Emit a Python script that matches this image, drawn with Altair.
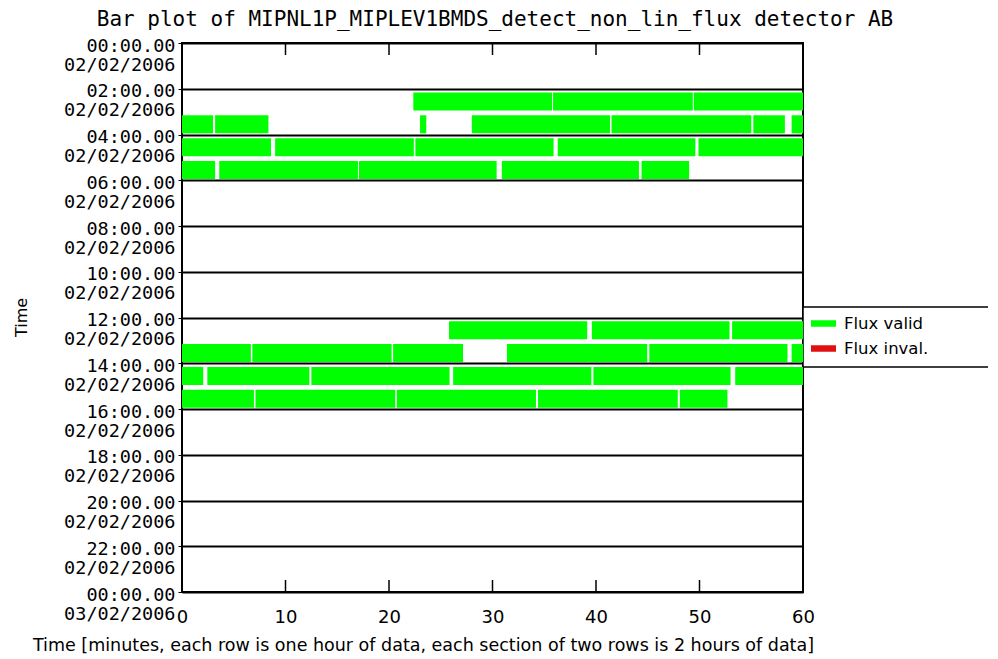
import json
import altair as alt
import pandas as pd

TITLE = "Bar plot of MIPNL1P_MIPLEV1BMDS_detect_non_lin_flux detector AB"
X_TITLE = "Time [minutes, each row is one hour of data, each section of two rows is 2 hours of data]"
Y_TITLE = "Time"

SERIES = ["Flux valid", "Flux inval."]
SERIES_COLORS = ["#00ff00", "#e01010"]

# Valid-flux segments (start / end, minutes) for each hour row holding data
HOUR_02_START = [22.35, 35.85, 49.45]
HOUR_02_END = [35.75, 49.35, 60.0]
HOUR_03_START = [0.0, 3.2, 23.0, 28.0, 41.5, 55.2, 58.9]
HOUR_03_END = [3.0, 8.35, 23.6, 41.35, 55.0, 58.25, 60.0]
HOUR_04_START = [0.0, 9.0, 22.55, 36.3, 49.9]
HOUR_04_END = [8.6, 22.4, 35.9, 49.6, 60.0]
HOUR_05_START = [0.0, 3.6, 17.1, 30.9, 44.4]
HOUR_05_END = [3.2, 17.0, 30.4, 44.15, 49.0]
HOUR_12_START = [25.8, 39.6, 53.15]
HOUR_12_END = [39.15, 52.9, 60.0]
HOUR_13_START = [0.0, 6.8, 20.4, 31.4, 45.15, 58.9]
HOUR_13_END = [6.65, 20.25, 27.15, 44.95, 58.5, 60.0]
HOUR_14_START = [0.0, 2.45, 12.5, 26.2, 39.75, 53.45]
HOUR_14_END = [2.05, 12.3, 25.85, 39.55, 53.0, 60.0]
HOUR_15_START = [0.0, 7.1, 20.75, 34.4, 48.1]
HOUR_15_END = [6.95, 20.6, 34.2, 47.9, 52.7]

Y_TICK_HOURS = [0, 2, 4, 6, 8, 10, 12, 14, 16, 18, 20, 22, 24]
Y_TICK_TIMES = ["00:00.00", "02:00.00", "04:00.00", "06:00.00", "08:00.00", "10:00.00",
                "12:00.00", "14:00.00", "16:00.00", "18:00.00", "20:00.00", "22:00.00",
                "00:00.00"]
Y_TICK_DATES = ["02/02/2006"] * 12 + ["03/02/2006"]
X_TICKS = [0, 10, 20, 30, 40, 50, 60]
X_INNER_TICKS = [10, 20, 30, 40, 50]

ROWS = {
    2: (HOUR_02_START, HOUR_02_END),
    3: (HOUR_03_START, HOUR_03_END),
    4: (HOUR_04_START, HOUR_04_END),
    5: (HOUR_05_START, HOUR_05_END),
    12: (HOUR_12_START, HOUR_12_END),
    13: (HOUR_13_START, HOUR_13_END),
    14: (HOUR_14_START, HOUR_14_END),
    15: (HOUR_15_START, HOUR_15_END),
}

records = []
for hour, (starts, ends) in ROWS.items():
    for s, e in zip(starts, ends):
        records.append({"hour": hour, "start": s, "end": e, "status": SERIES[0]})
df = pd.DataFrame(records)

tick_df = pd.DataFrame({"start": X_INNER_TICKS})
box_df = pd.DataFrame({"k": [0]})

FONT = "DejaVu Sans"
MONO = "DejaVu Sans Mono"
W, H = 621, 549

label_pairs = [[t, d] for t, d in zip(Y_TICK_TIMES, Y_TICK_DATES)]
label_expr = json.dumps(label_pairs) + "[round(datum.value / 2)]"

x_axis = alt.Axis(
    values=X_TICKS, title=X_TITLE, grid=False, domain=False, ticks=False,
    labelFont=FONT, labelFontSize=18, labelColor="black", labelPadding=16,
    labelFlush=False,
    titleFont=FONT, titleFontSize=17.5, titleFontWeight="normal", titleColor="black",
    titleX=241, titleY=53, titleBaseline="middle", titleAlign="center",
)
y_axis = alt.Axis(
    values=Y_TICK_HOURS, title=Y_TITLE, labelExpr=label_expr,
    grid=True, gridColor="black", gridWidth=2, gridOpacity=1,
    domain=False, tickSize=4, tickColor="black", tickWidth=1,
    labelFont=MONO, labelFontSize=18.5, labelColor="black", labelPadding=3,
    labelAlign="right", labelBaseline="top", labelOffset=-7, labelLineHeight=19,
    labelFlush=False, labelOverlap=False, labelBound=False,
    titleFont=FONT, titleFontSize=16, titleFontWeight="normal", titleColor="black",
    titleX=-161, titleY=274, titleAngle=-90, titleAlign="center", titleBaseline="middle",
)

x_scale = alt.Scale(domain=[0, 60], nice=False, zero=False)
y_scale = alt.Scale(domain=[0, 24], nice=False, zero=False, reverse=True)

bars = alt.Chart(df).transform_calculate(
    y0="datum.hour + 0.16", y1="datum.hour + 0.95"
).mark_rect().encode(
    x=alt.X("start:Q", scale=x_scale, axis=x_axis),
    x2="end:Q",
    y=alt.Y("y0:Q", scale=y_scale, axis=y_axis),
    y2="y1:Q",
    color=alt.Color(
        "status:N",
        scale=alt.Scale(domain=SERIES, range=SERIES_COLORS),
        legend=alt.Legend(
            title=None, orient="none", legendX=629, legendY=268,
            symbolType="M-1,-0.26H1V0.26H-1Z", symbolSize=625,
            symbolStrokeWidth=0, symbolOpacity=1,
            labelFont=FONT, labelFontSize=16.5, labelColor="black",
            labelOffset=8, rowPadding=4, padding=0,
        ),
    ),
)

top_ticks = alt.Chart(tick_df).mark_rule(color="black", strokeWidth=1.5).encode(
    x=alt.X("start:Q", scale=x_scale),
    y=alt.value(0), y2=alt.value(12),
)
bottom_ticks = alt.Chart(tick_df).mark_rule(color="black", strokeWidth=1.5).encode(
    x=alt.X("start:Q", scale=x_scale),
    y=alt.value(H - 12), y2=alt.value(H),
)
legend_box = alt.Chart(box_df).mark_rect(
    fill="white", stroke="black", strokeWidth=1.5
).encode(
    x=alt.value(W), x2=alt.value(W + 260),
    y=alt.value(264), y2=alt.value(324),
)
title_text = alt.Chart(box_df).mark_text(
    text=TITLE, font=MONO, fontSize=21, color="black",
    align="center", baseline="top",
).encode(
    x=alt.value(313), y=alt.value(-34),
)

chart = alt.layer(legend_box, bars, top_ticks, bottom_ticks, title_text).properties(
    width=W, height=H,
    autosize=alt.AutoSizeParams(type="none"),
    padding={"left": 174, "top": 35, "right": 185, "bottom": 65},
    background="white",
).configure_view(stroke="black", strokeWidth=2)

chart.save("out.html", embed_options={"renderer": "svg", "actions": False})
